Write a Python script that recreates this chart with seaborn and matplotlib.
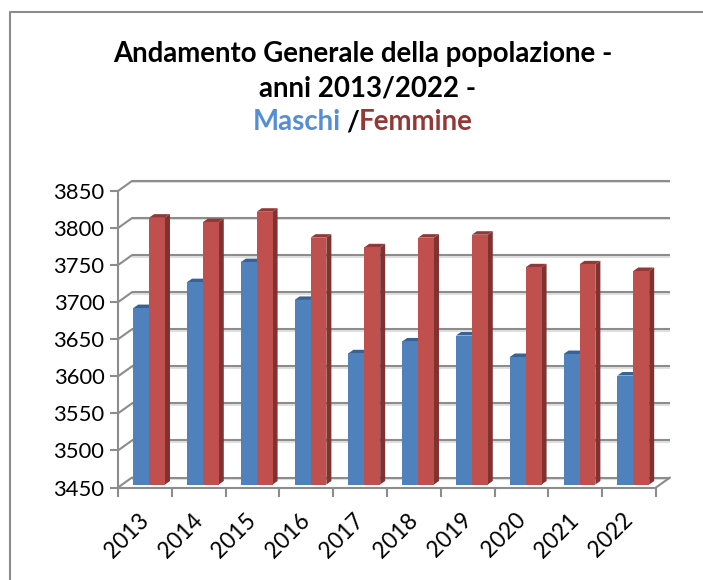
import matplotlib
matplotlib.use("Agg")
import matplotlib.patheffects as pe
import matplotlib.transforms as mtrans
import pandas as pd
import seaborn as sb
from matplotlib import pyplot as plt
from matplotlib.lines import Line2D
from matplotlib.patches import Polygon

years = ["2013", "2014", "2015", "2016", "2017", "2018", "2019", "2020", "2021", "2022"]
maschi = [3688, 3723, 3750, 3699, 3627, 3643, 3651, 3622, 3626, 3597]
femmine = [3810, 3804, 3818, 3783, 3770, 3783, 3787, 3743, 3747, 3738]
y_ticks = [3450, 3500, 3550, 3600, 3650, 3700, 3750, 3800, 3850]

W, H = 703, 580
GREY = "#8c8c8c"
BAR_COLORS = {"Maschi": "#4f81bd", "Femmine": "#c0504d"}
SIDE_COLORS = {"Maschi": "#3a6190", "Femmine": "#7f3230"}
TOP_COLORS = {"Maschi": "#3a6190", "Femmine": "#8f3a38"}

# * pixel offsets of the fake 3d look
WALL_DX, WALL_DY = 14, 10
BAR_DX, BAR_DY = 4.2, 3
DEPTH_DX, DEPTH_DY = 5, 3.5

sb.set_style("white")
plt.rcParams["font.family"] = ["Lato", "DejaVu Sans"]

df = pd.DataFrame(
    {
        "anno": years * 2,
        "valore": maschi + femmine,
        "sesso": ["Maschi"] * len(years) + ["Femmine"] * len(years),
    }
)

fig = plt.figure(figsize=(W / 100, H / 100), dpi=100)
ax = fig.add_axes([118 / W, (H - 487.5) / H, 538 / W, 296.5 / H])
ax.patch.set_alpha(0)

sb.barplot(
    data=df, x="anno", y="valore", hue="sesso", palette=BAR_COLORS,
    width=0.59, gap=0, saturation=1, legend=False, ax=ax, zorder=3,
)

ax.set_xlim(-0.5, len(years) - 0.5)
ax.set_ylim(y_ticks[0], y_ticks[-1])
ax.set_xlabel("")
ax.set_ylabel("")

# * axes, ticks
for side in ["top", "right"]:
    ax.spines[side].set_visible(False)
for side in ["left", "bottom"]:
    ax.spines[side].set_color(GREY)
    ax.spines[side].set_linewidth(1.5)
ax.set_yticks(y_ticks)
ax.set_xticks([i - 0.5 for i in range(len(years) + 1)], minor=True)
ax.set_xticks(range(len(years)), years)
ax.tick_params(axis="y", which="major", left=True, length=5.8, width=1.5, color=GREY, labelsize=15.8, pad=4, labelcolor="black")
ax.tick_params(axis="x", which="major", bottom=False, labelsize=16.3, labelcolor="black", pad=0)
ax.tick_params(axis="x", which="minor", bottom=True, length=6.5, width=1.5, color=GREY)

label_shift = mtrans.ScaledTranslation(-18 / 100, -43 / 100, fig.dpi_scale_trans)
for lab in ax.get_xticklabels():
    lab.set_rotation(45)
    lab.set_ha("center")
    lab.set_va("center")
    lab.set_rotation_mode("anchor")
    lab.set_transform(lab.get_transform() + label_shift)

# * back wall lines, shifted from the front axis
wall = ax.transData + mtrans.Affine2D().translate(WALL_DX, WALL_DY)
shadow = [pe.SimpleLineShadow(offset=(0, -1), shadow_color="#cccccc", alpha=0.6), pe.Normal()]
ax.hlines(
    y_ticks, -0.5, len(years) - 0.5, colors=GREY, linewidth=1.5,
    transform=wall, clip_on=False, zorder=1, path_effects=shadow,
)
ident = mtrans.IdentityTransform()
for t in y_ticks:
    x0, y0 = ax.transData.transform((-0.5, t))
    ax.add_line(Line2D([x0, x0 + WALL_DX], [y0, y0 + WALL_DY], color=GREY, lw=1.5, transform=ident, clip_on=False, zorder=1))
x0, y0 = ax.transData.transform((len(years) - 0.5, y_ticks[0]))
ax.add_line(Line2D([x0, x0 + WALL_DX], [y0, y0 + WALL_DY], color=GREY, lw=1.5, transform=ident, clip_on=False, zorder=1))

# * turn flat bars into boxes
names = ["Maschi"] * len(years) + ["Femmine"] * len(years)
bar_shift = mtrans.Affine2D().translate(BAR_DX, BAR_DY)
for bar, name in zip(ax.patches[: len(names)], names):
    bar.set_height(bar.get_height() - y_ticks[0])
    bar.set_y(y_ticks[0])
    bar.set_clip_on(False)
    bar.set_linewidth(0)
    bar.set_transform(ax.transData + bar_shift)
    (xl, yb), (xr, yt) = (ax.transData + bar_shift).transform(
        [(bar.get_x(), bar.get_y()), (bar.get_x() + bar.get_width(), bar.get_y() + bar.get_height())]
    )
    z = 3 if name == "Maschi" else 4
    bar.set_zorder(z + 0.2)
    ax.add_patch(Polygon(
        [(xr, yb), (xr + DEPTH_DX, yb + DEPTH_DY), (xr + DEPTH_DX, yt + DEPTH_DY), (xr, yt)],
        closed=True, fc=SIDE_COLORS[name], ec="none", transform=ident, clip_on=False, zorder=z + 0.1,
    ))
    ax.add_patch(Polygon(
        [(xl, yt), (xl + DEPTH_DX, yt + DEPTH_DY), (xr + DEPTH_DX, yt + DEPTH_DY), (xr, yt)],
        closed=True, fc=TOP_COLORS[name], ec="none", transform=ident, clip_on=False, zorder=z + 0.1,
    ))

# * frame: only top and left are inside the picture
fig.add_artist(Line2D([10 / W, 10 / W, 1], [0, 1 - 11.5 / H, 1 - 11.5 / H], color=GREY, lw=1.5))

# * title
TITLE_SIZE = 19.9
fig.text(113 / W, 1 - 54 / H, "Andamento Generale della popolazione -", ha="left", va="center", fontsize=TITLE_SIZE, fontweight="bold", color="black")
fig.text(259 / W, 1 - 88 / H, "anni 2013/2022 -", ha="left", va="center", fontsize=TITLE_SIZE, fontweight="bold", color="black")

renderer = fig.canvas.get_renderer()
x = 253
for txt, col in [("Maschi ", "#558ed5"), ("/", "black"), ("Femmine", "#953735")]:
    t = fig.text(x / W, 1 - 122 / H, txt.strip(), ha="left", va="center", fontsize=TITLE_SIZE, fontweight="bold", color=col)
    x = t.get_window_extent(renderer).x1 + (5 if txt.endswith(" ") else 0)

fig.savefig("out.png", dpi=100, facecolor="white")
plt.close()
